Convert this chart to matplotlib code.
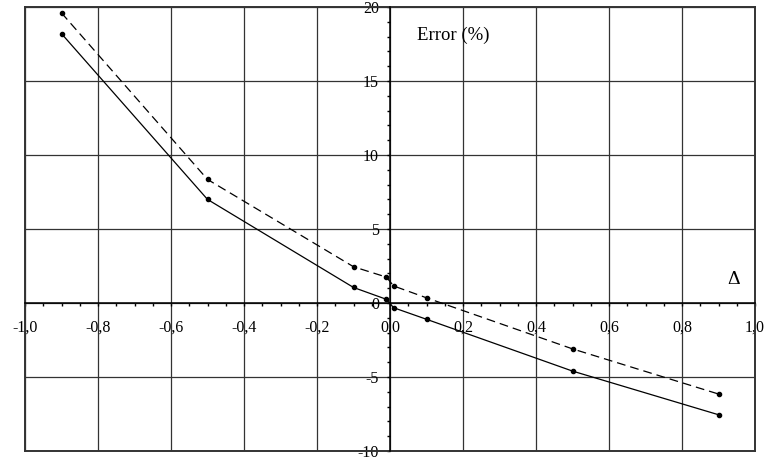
import matplotlib
matplotlib.use("Agg")
import matplotlib.pyplot as plt
from matplotlib.ticker import FixedLocator, MultipleLocator

# Data
delta = [-0.9, -0.5, -0.1, -0.01, 0.01, 0.1, 0.5, 0.9]
error_solid = [18.2, 7.0, 1.05, 0.25, -0.32, -1.1, -4.6, -7.55]
error_dashed = [19.6, 8.35, 2.45, 1.75, 1.15, 0.35, -3.1, -6.15]

xtick_values = [-1.0, -0.8, -0.6, -0.4, -0.2, 0.0, 0.2, 0.4, 0.6, 0.8, 1.0]
xtick_labels = ["-1,0", "-0,8", "-0,6", "-0,4", "-0,2", "0,0", "0,2", "0,4", "0,6", "0,8", "1,0"]
ytick_values = [-10, -5, 0, 5, 10, 15, 20]
ytick_labels = ["-10", "-5", "0", "5", "10", "15", "20"]

plt.rcParams['font.family'] = ['Liberation Serif', 'DejaVu Serif']

fig = plt.figure(figsize=(7.65, 4.63), dpi=100)
ax = fig.add_axes([25/765, 12/463, 730/765, 444/463])

ax.set_xlim(-1.0, 1.0)
ax.set_ylim(-10, 20)

ax.spines['left'].set_position(('data', 0))
ax.spines['bottom'].set_position(('data', 0))
ax.spines['top'].set_visible(False)
ax.spines['right'].set_visible(False)
for s in ('left', 'bottom'):
    ax.spines[s].set_linewidth(1.1)
    ax.spines[s].set_color('black')

ax.xaxis.set_major_locator(FixedLocator(xtick_values))
ax.set_xticklabels(xtick_labels)
ax.xaxis.set_minor_locator(MultipleLocator(0.05))
ax.yaxis.set_major_locator(FixedLocator(ytick_values))
ax.set_yticklabels(ytick_labels)
ax.yaxis.set_minor_locator(MultipleLocator(1))

ax.tick_params(axis='x', which='both', direction='out', length=2, width=1,
               pad=10, labelsize=11.5)
ax.tick_params(axis='y', which='both', direction='out', length=2.5, width=1,
               pad=5.5, labelsize=11.5)

ax.grid(True, which='major', color='#333333', linewidth=0.9)
ax.set_axisbelow(True)

# frame lines
for x in (-1.0, 1.0):
    ax.axvline(x, color='#333333', linewidth=1.4, clip_on=False, zorder=1)
for y in (-10, 20):
    ax.axhline(y, color='#333333', linewidth=1.4, clip_on=False, zorder=1)

ax.plot(delta, error_solid, color='black', linewidth=0.9, marker='o',
        markersize=3, zorder=3)
ax.plot(delta, error_dashed, color='black', linewidth=0.9, marker='o',
        markersize=3, linestyle=(0, (7, 4)), zorder=3)

ax.text(0.074, 18.1, "Error (%)", fontsize=13.5, ha='left', va='center')
ax.text(0.94, 1.6, "Δ", fontsize=14, ha='center', va='center')

fig.savefig("out.png", dpi=100)
